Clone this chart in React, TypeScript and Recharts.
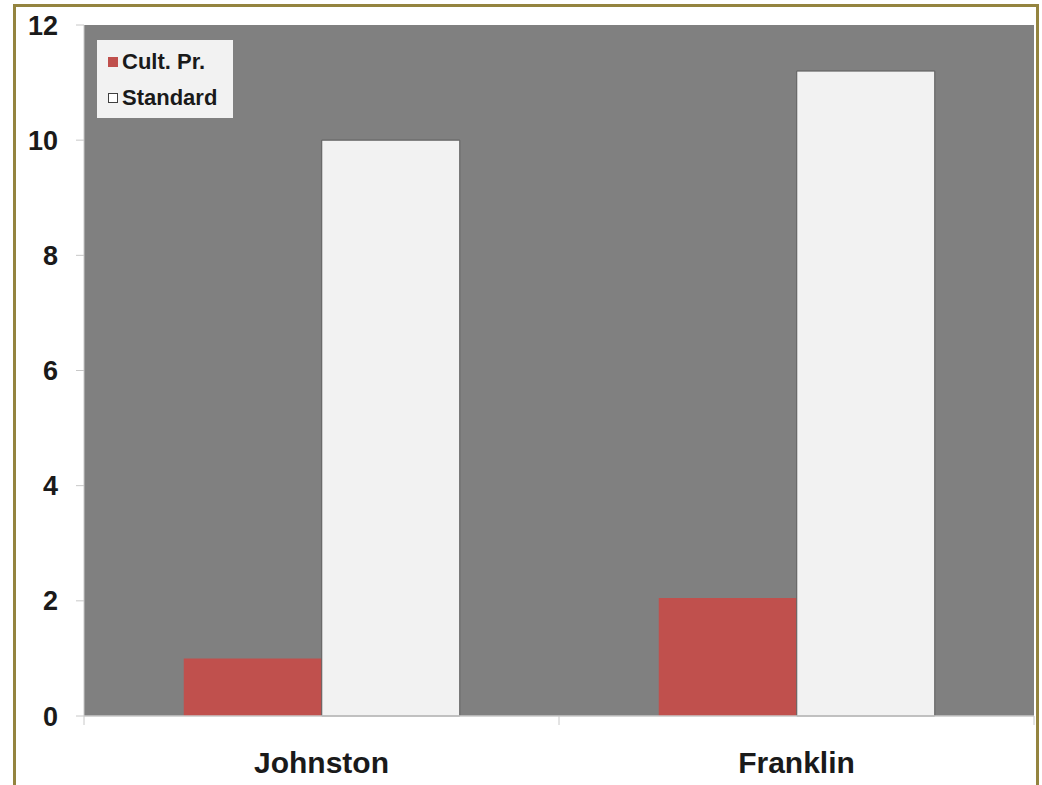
import React from 'react';
import { BarChart, Bar, XAxis, YAxis, CartesianGrid, Legend } from 'recharts';

const categories = ['Johnston', 'Franklin'];
const cultPr = [1.0, 2.05];
const standard = [10.0, 11.2];
const yTicks = [0, 2, 4, 6, 8, 10, 12];

const data = categories.map((name, i) => ({ name, cult: cultPr[i], standard: standard[i] }));

const FONT = '"Liberation Sans", Arial, sans-serif';

const XTick = (props: any) => {
  const { x, y, payload, index } = props;
  const off = payload && payload.offset ? payload.offset : 0;
  return (
    <g>
      <line x1={x - off} x2={x - off} y1={y} y2={y + 9} stroke="#c8c8c8" strokeWidth={1} />
      {index === categories.length - 1 && (
        <line x1={x + off} x2={x + off} y1={y} y2={y + 9} stroke="#c8c8c8" strokeWidth={1} />
      )}
      <text x={x} y={y + 57} textAnchor="middle" fontSize={30} fontWeight="bold" fill="#1a1a1a" fontFamily={FONT}>
        {payload.value}
      </text>
    </g>
  );
};

const LegendBox = () => (
  <div
    style={{
      width: 136,
      height: 78,
      background: '#f2f2f2',
      position: 'relative',
      fontFamily: FONT,
      fontWeight: 'bold',
      fontSize: 22,
      color: '#1a1a1a',
    }}
  >
    <div style={{ position: 'absolute', left: 11, top: 17, width: 10, height: 10, background: '#c0504d' }} />
    <div style={{ position: 'absolute', left: 25, top: 9, lineHeight: '26px', whiteSpace: 'nowrap' }}>Cult. Pr.</div>
    <div
      style={{
        position: 'absolute',
        left: 11,
        top: 53,
        width: 8,
        height: 8,
        background: '#ffffff',
        border: '1px solid #404040',
      }}
    />
    <div style={{ position: 'absolute', left: 25, top: 45, lineHeight: '26px', whiteSpace: 'nowrap' }}>Standard</div>
  </div>
);

export default function App() {
  return (
    <div
      style={{
        position: 'absolute',
        left: 0,
        top: 0,
        width: 1042,
        height: 785,
        overflow: 'hidden',
        background: '#ffffff',
      }}
    >
      <div
        style={{
          position: 'absolute',
          left: 13,
          top: 4,
          width: 1020,
          height: 820,
          border: '3px solid #94843f',
          pointerEvents: 'none',
          zIndex: 2,
        }}
      />
      <BarChart
        width={1042}
        height={785}
        data={data}
        margin={{ top: 25, right: 8, left: 0, bottom: 39 }}
        barCategoryGap="21%"
        barGap={0}
      >
        <CartesianGrid horizontal={false} vertical={false} fill="#808080" />
        <XAxis
          dataKey="name"
          height={30}
          tickLine={false}
          tickSize={0}
          tickMargin={0}
          axisLine={{ stroke: '#c8c8c8', strokeWidth: 1.5 }}
          tick={<XTick />}
          interval={0}
        />
        <YAxis
          width={84}
          domain={[0, 12]}
          ticks={yTicks}
          interval={0}
          tickSize={8}
          tickMargin={18}
          tickLine={{ stroke: '#c8c8c8' }}
          axisLine={{ stroke: '#c8c8c8' }}
          tick={{ fontSize: 27, fontWeight: 'bold', fill: '#1a1a1a', fontFamily: FONT }}
        />
        <Legend
          layout="vertical"
          align="center"
          verticalAlign="middle"
          content={<LegendBox />}
          wrapperStyle={{ left: 97, top: 40, width: 136, height: 78 }}
        />
        <Bar dataKey="cult" name="Cult. Pr." fill="#c0504d" isAnimationActive={false} />
        <Bar dataKey="standard" name="Standard" fill="#f2f2f2" stroke="#5a5a5a" strokeWidth={1} isAnimationActive={false} />
      </BarChart>
    </div>
  );
}
